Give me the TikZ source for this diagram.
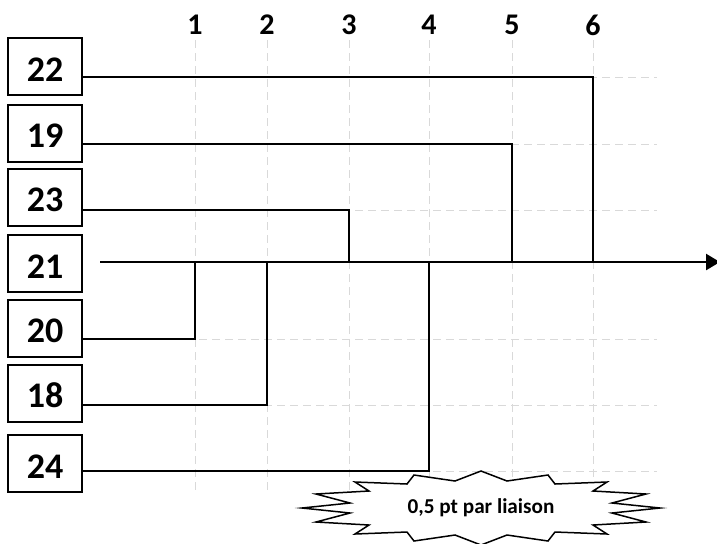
\documentclass[tikz,border=0pt]{standalone}
\usepackage{fontspec}
\setmainfont{Carlito}
\usetikzlibrary{arrows.meta, calc}
\definecolor{gridgray}{RGB}{217,217,217}
\tikzset{
  molbox/.style={
    rectangle, draw=black, line width=1pt, fill=white,
    minimum width=37pt, minimum height=28.5pt, inner sep=0pt,
    font=\fontsize{18}{21}\selectfont\bfseries,
    text height=14.6pt, text depth=0pt
  },
  collabel/.style={font=\fontsize{15}{18}\selectfont\bfseries, inner sep=0pt},
  gridline/.style={gridgray, line width=0.5pt, dash pattern=on 4pt off 2.5pt},
  bond/.style={black, line width=0.75pt},
  axisline/.style={black, line width=1.25pt, -{Triangle[length=7pt,width=8pt]}},
  burst/.style={draw=black, line width=0.75pt, fill=white},
  bursttext/.style={font=\fontsize{10.6}{13}\selectfont\bfseries, inner sep=0pt}
}

\begin{document}
\begin{tikzpicture}[x=0.5pt, y=-0.5pt]
\useasboundingbox (0,0) rectangle (717,543);

% step numbers and dashed grid
\foreach \i/\gx in {1/195, 2/267, 3/349, 4/429, 5/512, 6/593} {
  \node[collabel] (c\i) at (\gx,25) {\i};
  \draw[gridline] (\gx,40) -- (\gx,493);
}
\foreach \gy in {77,144,210,339,405,471}
  \draw[gridline] (82,\gy) -- (657,\gy);

% atoms
\node[molbox] (n22) at (45,66.5) {22};
\node[molbox] (n19) at (45,133) {19};
\node[molbox] (n23) at (45,197) {23};
\node[molbox] (n21) at (45,263.5) {21};
\node[molbox] (n20) at (45,328) {20};
\node[molbox] (n18) at (45,393) {18};
\node[molbox] (n24) at (45,463.5) {24};

% bond points on the chain
\coordinate (a1) at (195,262);
\coordinate (a2) at (267,262);
\coordinate (a3) at (349,262);
\coordinate (a4) at (429,262);
\coordinate (a5) at (512,262);
\coordinate (a6) at (593,262);

% corners
\coordinate (k22) at (593,77);
\coordinate (k19) at (512,144);
\coordinate (k23) at (349,210);
\coordinate (k20) at (195,339);
\coordinate (k18) at (267,405);
\coordinate (k24) at (429,471);

\draw[bond] (n22.east |- k22) -- (k22) -- (a6);
\draw[bond] (n19.east |- k19) -- (k19) -- (a5);
\draw[bond] (n23.east |- k23) -- (k23) -- (a3);
\draw[bond] (n20.east |- k20) -- (k20) -- (a1);
\draw[bond] (n18.east |- k18) -- (k18) -- (a2);
\draw[bond] (n24.east |- k24) -- (k24) -- (a4);

% main chain
\coordinate (start) at (100,262);
\coordinate (end) at (720,262);
\draw[axisline] (start) -- (end);

% note
\draw[burst, shift={(481,508)}]
  (-179,0) -- (-131,-5) -- (-165,-14) -- (-112,-17) -- (-126,-26) -- (-74,-24)
  -- (-67,-33) -- (-26,-27) -- (0,-37) -- (26,-27) -- (67,-33) -- (74,-24)
  -- (126,-26) -- (112,-17) -- (165,-14) -- (131,-5) -- (179,0)
  -- (131,5) -- (165,14) -- (112,17) -- (126,26) -- (74,24) -- (67,33)
  -- (26,27) -- (0,37) -- (-26,27) -- (-67,33) -- (-74,24) -- (-126,26)
  -- (-112,17) -- (-165,14) -- (-131,5) -- cycle;
\node[bursttext] (note) at (481,508) {0,5 pt par liaison};

\end{tikzpicture}
\end{document}
